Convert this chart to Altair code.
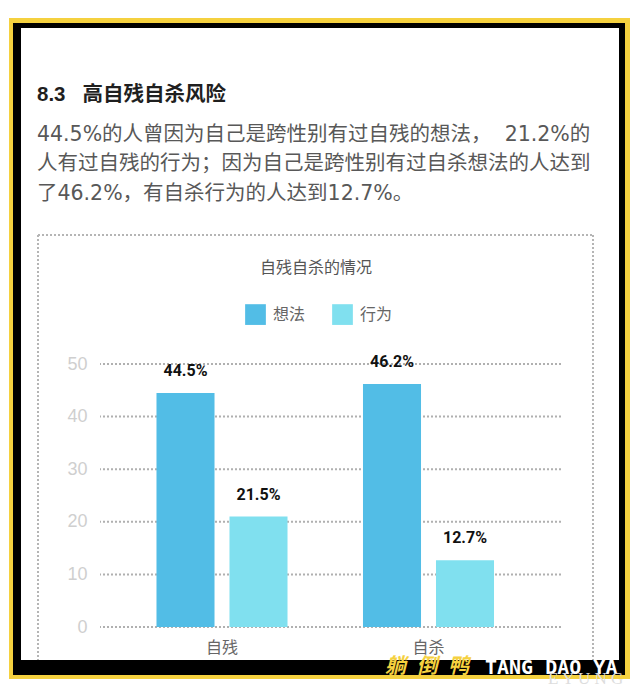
import altair as alt
import pandas as pd

# chart values
groups = ["自残", "自杀"]
series = ["想法", "行为"]
thought_values = [44.5, 46.2]
action_values = [21.0, 12.7]
thought_labels = ["44.5%", "46.2%"]
action_labels = ["21.5%", "12.7%"]
y_ticks = [0, 10, 20, 30, 40, 50]

NBSP = "\u00a0"
heading = "8.3" + NBSP * 3 + "高自残自杀风险"
body_lines = [
    "44.5%的人曾因为自己是跨性别有过自残的想法，" + NBSP * 2 + "21.2%的",
    "人有过自残的行为；因为自己是跨性别有过自杀想法的人达到",
    "了46.2%，有自杀行为的人达到12.7%。",
]
chart_title = "自残自杀的情况"

CJK = "Liberation Sans, Noto Sans CJK SC"
BODY = "DejaVu Sans, Noto Sans CJK SC"
PAD_LEFT, PAD_TOP = 92, 356   # plot area starts at 100,364 on the page


def px(v):
    return v - PAD_LEFT - 8


def py(v):
    return v - PAD_TOP - 8


rows = []
for i, g in enumerate(groups):
    rows.append({"group": g, "kind": series[0], "value": thought_values[i], "label": thought_labels[i]})
    rows.append({"group": g, "kind": series[1], "value": action_values[i], "label": action_labels[i]})
df = pd.DataFrame(rows)

one = alt.Chart(pd.DataFrame({"a": [0]}))


def box(x1, x2, y1, y2, color):
    return one.mark_rect(color=color, clip=False).encode(
        x=alt.value(px(x1)), x2=alt.value(px(x2)), y=alt.value(py(y1)), y2=alt.value(py(y2))
    )


def dotted(x1, x2, y1, y2):
    return one.mark_rule(color="#b5b5b5", strokeWidth=2, strokeDash=[2, 2], clip=False).encode(
        x=alt.value(px(x1)), x2=alt.value(px(x2)), y=alt.value(py(y1)), y2=alt.value(py(y2))
    )


def label(txt, x, y, size, color, align="left", weight="normal", font=CJK, **kw):
    return alt.Chart(pd.DataFrame({"t": [txt]})).mark_text(
        align=align, baseline="middle", fontSize=size, color=color, fontWeight=weight, font=font, clip=False, **kw
    ).encode(text="t:N", x=alt.value(px(x)), y=alt.value(py(y)))


# frame and text around the chart
frame = [
    box(9, 630, 18, 679, "#f5d13f"),
    box(13, 625, 23, 675, "#000000"),
    box(21, 619, 28, 660, "#ffffff"),
    dotted(38, 593, 235, 235),
    dotted(38, 38, 235, 660),
    dotted(593, 593, 235, 660),
]
texts = [label(heading, 37, 95, 20.5, "#1f1f1f", weight="bold")]
for line, y in zip(body_lines, [135, 164, 194]):
    texts.append(label(line, 37, y, 20.5, "#585858", font=BODY))
texts.append(label(chart_title, 316, 268, 16, "#555555", align="center"))

y_scale = alt.Scale(domain=[0, 50], nice=False)
y_axis = alt.Axis(values=y_ticks, title=None, domain=False, ticks=False, grid=False, labelColor="#cfcfcf",
                  labelFontSize=18, labelFont="Liberation Sans", labelPadding=13, zindex=1)

# grid as its own layer, the white panel would hide axis gridlines
grid = alt.Chart(pd.DataFrame({"tick": y_ticks})).mark_rule(
    color="#b0b0b0", strokeWidth=2, strokeDash=[2, 2]
).encode(y=alt.Y("tick:Q", scale=y_scale, axis=y_axis))

x_enc = alt.X(
    "group:N",
    sort=groups,
    title=None,
    scale=alt.Scale(range=[0, 450.5], paddingInner=0, paddingOuter=0.0908),
    axis=alt.Axis(domain=False, ticks=False, grid=False, labelAngle=0, labelFontSize=16,
                  labelColor="#666666", labelFont=CJK, labelPadding=12, zindex=1),
)
off_enc = alt.XOffset("kind:N", sort=series, scale=alt.Scale(paddingInner=0.205, paddingOuter=0.517))

bars = alt.Chart(df).mark_bar().encode(
    x=x_enc,
    xOffset=off_enc,
    y=alt.Y("value:Q", scale=y_scale, axis=y_axis),
    color=alt.Color(
        "kind:N",
        sort=series,
        title=None,
        scale=alt.Scale(domain=series, range=["#52bde6", "#80e0ef"]),
        legend=alt.Legend(orient="none", legendX=px(245), legendY=py(304), direction="horizontal",
                          symbolType="square", symbolSize=430, symbolStrokeWidth=0, symbolOpacity=1,
                          labelFontSize=16, labelColor="#666666", labelFont=CJK, labelOffset=7,
                          columnPadding=26),
    ),
)

value_text = alt.Chart(df).mark_text(
    baseline="middle", dy=-22, fontSize=16, fontWeight="bold", color="#111111", font="Roboto"
).encode(x=x_enc, xOffset=off_enc, y=alt.Y("value:Q", scale=y_scale, axis=y_axis), text="label:N")

# brand strip on the bottom edge
brand = [
    label("躺" + "\u2002" + "倒" + "\u2002" + "鸭", 385, 667, 21, "#f5d13f", weight="bold",
          font="Noto Sans CJK SC", fontStyle="italic"),
    label("TANG DAO YA", 485, 668, 20, "#ffffff", weight="bold", font="DejaVu Sans Mono"),
    label("E Y U N G", 548, 679, 17, "#dddddd", font="Liberation Serif"),
]

chart = alt.layer(*frame, *texts, grid, bars, value_text, *brand).properties(
    width=461,
    height=263,
    padding={"left": PAD_LEFT, "top": PAD_TOP, "right": 71, "bottom": 59},
    autosize=alt.AutoSizeParams(type="none"),
    background="#ffffff",
).configure_view(stroke=None)

chart.save("out.html", embed_options={"renderer": "svg", "actions": False})
